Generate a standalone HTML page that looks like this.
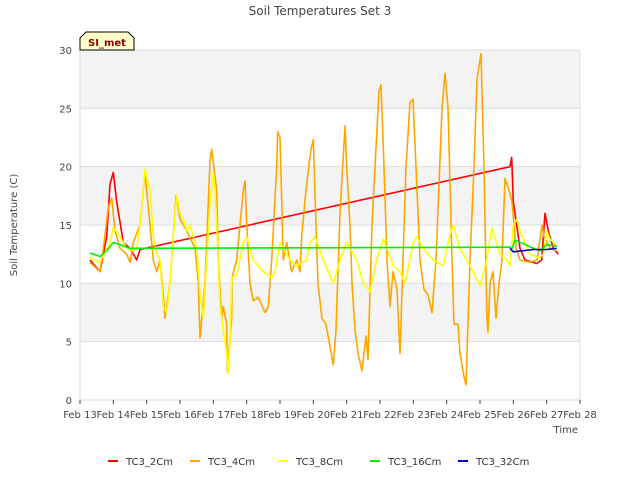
<!DOCTYPE html>
<html><head><meta charset="utf-8"><style>
body{margin:0;background:#fff;font-family:"DejaVu Sans",sans-serif}
</style></head><body>
<svg width="640" height="480" xmlns="http://www.w3.org/2000/svg" font-family="DejaVu Sans, sans-serif">
<g id="bands"></g>
<g id="grid"></g>
<g id="axes"></g>
<g id="series"></g>
<text x="320" y="15" text-anchor="middle" font-size="12" fill="#444">Soil Temperatures Set 3</text>
<text transform="translate(17,225) rotate(-90)" text-anchor="middle" font-size="10" fill="#444">Soil Temperature (C)</text>
<text x="578" y="433" text-anchor="end" font-size="10" fill="#444">Time</text>
<g>
<path d="M80,50 L80,38 L86,32 L128,32 L134,38 L134,50 Z" fill="#ffffcc" stroke="#000"/>
<text x="107" y="46" text-anchor="middle" font-size="10" font-weight="bold" fill="#8b0000">SI_met</text>
</g>
<g id="legend"></g>
</svg>
<script>
const yTicks=[0,5,10,15,20,25,30];
const xTickLabels=["Feb 13","Feb 14","Feb 15","Feb 16","Feb 17","Feb 18","Feb 19","Feb 20","Feb 21","Feb 22","Feb 23","Feb 24","Feb 25","Feb 26","Feb 27","Feb 28"];
const seriesNames=["TC3_2Cm","TC3_4Cm","TC3_8Cm","TC3_16Cm","TC3_32Cm"];
const seriesColors=["#ff0000","#ffa500","#ffff00","#00ee00","#0000cc"];
const tc2=[[0.3,12],[0.6,11],[0.8,14],[0.9,18.5],[1.0,19.5],[1.1,17],[1.3,13.5],[1.5,13],[1.7,12],[1.8,12.9],[12.9,20],[12.95,20.8],[13.0,17],[13.2,13],[13.35,12],[13.7,11.7],[13.85,12],[13.95,16],[14.05,14.5],[14.2,13],[14.35,12.5]];
const tc4=[[0.3,11.8],[0.6,11],[0.7,13],[0.85,16.5],[0.95,17.3],[1.05,14.5],[1.2,13],[1.4,12.5],[1.5,11.8],[1.6,13.5],[1.8,15],[1.95,19.5],[2.1,15],[2.2,12],[2.3,11],[2.4,12],[2.5,9],[2.55,7],[2.7,10],[2.88,17.5],[3.0,15.5],[3.2,14.5],[3.45,13],[3.55,10],[3.6,5.3],[3.75,10],[3.9,20.5],[3.95,21.5],[4.1,18],[4.15,12],[4.25,7],[4.3,8],[4.4,6.5],[4.42,2.5],[4.55,7],[4.56,10.5],[4.7,12],[4.9,18],[4.95,18.8],[5.0,15],[5.1,10],[5.2,8.5],[5.35,8.8],[5.55,7.5],[5.65,8],[5.75,12],[5.9,20],[5.93,23],[6.0,22.5],[6.1,12],[6.2,13.5],[6.35,11],[6.5,12],[6.6,11],[6.65,14],[6.78,18],[6.93,21.5],[7.0,22.3],[7.08,15],[7.14,10],[7.26,7],[7.38,6.5],[7.6,3],[7.68,6],[7.8,16],[7.95,23.5],[8.0,20],[8.1,15],[8.16,10],[8.25,6],[8.34,4],[8.46,2.5],[8.58,5.5],[8.64,3.5],[8.76,15],[8.85,20],[8.97,26.5],[9.03,27],[9.12,20],[9.21,12],[9.3,8],[9.39,11],[9.51,9.5],[9.6,4],[9.69,12],[9.78,20],[9.9,25.5],[9.99,25.8],[10.08,20],[10.2,12],[10.32,9.5],[10.44,9],[10.56,7.5],[10.68,12],[10.86,25],[10.95,28],[11.04,25],[11.16,12],[11.22,6.5],[11.34,6.5],[11.4,4],[11.52,2],[11.58,1.3],[11.7,12],[11.82,20],[11.91,27.5],[12.03,29.7],[12.12,20],[12.18,11],[12.21,7],[12.24,5.8],[12.3,10],[12.39,11],[12.48,7],[12.57,10],[12.66,12],[12.75,19],[12.87,18],[12.96,17],[13.08,13],[13.2,12],[13.5,11.8],[13.71,12],[13.86,15],[13.92,14],[14.1,13],[14.28,12.8]];
const tc8=[[0.3,12.2],[0.6,11.8],[0.9,13.5],[1.0,14.8],[1.2,14],[1.4,13],[1.6,12.8],[1.7,13],[1.8,15],[1.95,19.8],[2.1,18],[2.2,14],[2.3,12.5],[2.4,12],[2.5,8],[2.6,7.5],[2.7,10],[2.85,16],[2.9,17.5],[3.0,16],[3.1,15.5],[3.2,14.5],[3.3,15],[3.5,13],[3.6,9],[3.7,7],[3.8,12],[3.9,17],[4.0,19.5],[4.05,18],[4.1,15],[4.2,8],[4.3,6],[4.4,4],[4.45,2.3],[4.5,5],[4.55,10.5],[4.7,10.7],[4.9,13.5],[5.0,14],[5.2,12],[5.5,11],[5.75,10.5],[5.85,11],[6.0,13.5],[6.1,13],[6.3,12],[6.5,11.5],[6.8,12],[6.9,13.5],[7.05,14],[7.3,12],[7.6,10],[7.8,12],[8.0,13.5],[8.3,12],[8.5,10],[8.7,9.3],[8.9,12],[9.1,13.8],[9.4,11.5],[9.6,11],[9.75,10],[10.0,13.5],[10.1,14],[10.3,13],[10.6,12],[10.9,11.5],[11.1,14.2],[11.2,15],[11.4,13],[11.7,11.5],[12.0,9.8],[12.2,12],[12.35,14.8],[12.6,12.5],[12.8,12],[12.9,11.5],[13.0,15],[13.1,15.5],[13.2,14.5],[13.5,12.5],[13.8,12.2],[13.9,12.5],[14.0,14.5],[14.1,13.8],[14.3,13.2]];
const tc16=[[0.3,12.6],[0.6,12.3],[0.8,12.8],[1.0,13.5],[1.2,13.3],[1.5,13],[1.8,13],[12.9,13.1],[12.95,12.9],[13.05,13.7],[13.3,13.4],[13.6,13],[13.8,12.8],[14.0,13.3],[14.3,13.2]];
const tc32=[[12.9,13],[13.0,12.7],[13.3,12.8],[13.6,12.9],[14.0,12.9],[14.3,13]];
const allSeries=[tc2,tc4,tc8,tc16,tc32];

const X0=80,X1=580,Y0=400,Y1=50;
const xs=d=>X0+(X1-X0)*d/15;
const ys=v=>Y0-(Y0-Y1)*v/30;
const NS="http://www.w3.org/2000/svg";
function mk(t,parent){const e=document.createElementNS(NS,t);document.getElementById(parent).appendChild(e);return e;}
for(let i=0;i<6;i++){
 if(i%2===1){
  const r=mk('rect','bands');
  
  
  r.setAttribute('x',X0);r.setAttribute('width',X1-X0);
  r.setAttribute('y',ys(yTicks[i+1]));r.setAttribute('height',ys(yTicks[i])-ys(yTicks[i+1]));
  r.setAttribute('fill','#f3f3f3');
 }
}
yTicks.forEach(v=>{
 const l=mk('line','grid');
 
 
 l.setAttribute('x1',X0);l.setAttribute('x2',X1);l.setAttribute('y1',ys(v));l.setAttribute('y2',ys(v));
 l.setAttribute('stroke','#dddddd');
 const t=mk('text','axes');
 
 
 t.setAttribute('x',X0-8);t.setAttribute('y',ys(v)+4);t.setAttribute('text-anchor','end');
 t.setAttribute('font-size','10');t.setAttribute('fill','#444');t.textContent=v;
});
const lv=mk('line','grid');


lv.setAttribute('x1',X0);lv.setAttribute('x2',X0);lv.setAttribute('y1',Y1);lv.setAttribute('y2',Y0);lv.setAttribute('stroke','#dddddd');
const rv=mk('line','grid');


rv.setAttribute('x1',X1);rv.setAttribute('x2',X1);rv.setAttribute('y1',Y1);rv.setAttribute('y2',Y0);rv.setAttribute('stroke','#dddddd');
xTickLabels.forEach((s,i)=>{
 const tk=mk('line','axes');
 
 
 tk.setAttribute('x1',xs(i));tk.setAttribute('x2',xs(i));tk.setAttribute('y1',Y0);tk.setAttribute('y2',Y0+4);tk.setAttribute('stroke','#444');
 const t=mk('text','axes');
 
 
 t.setAttribute('x',xs(i));t.setAttribute('y',Y0+18);t.setAttribute('text-anchor','middle');
 t.setAttribute('font-size','10');t.setAttribute('fill','#444');t.textContent=s;
});
allSeries.forEach((ser,k)=>{
 const p=mk('polyline','series');
 
 
 p.setAttribute('points',ser.map(d=>xs(d[0]).toFixed(1)+','+ys(d[1]).toFixed(1)).join(' '));
 p.setAttribute('fill','none');p.setAttribute('stroke',seriesColors[k]);p.setAttribute('stroke-width','1.6');
 p.setAttribute('stroke-linejoin','round');
});
const lx=[108,190,278,370,458];
seriesNames.forEach((n,k)=>{
 const g=mk('g','legend');
 
 
 const l=document.createElementNS(NS,'line');
 l.setAttribute('x1',lx[k]);l.setAttribute('x2',lx[k]+10);l.setAttribute('y1',461);l.setAttribute('y2',461);
 l.setAttribute('stroke',seriesColors[k]);l.setAttribute('stroke-width','2');
 g.appendChild(l);
 const t=document.createElementNS(NS,'text');
 t.setAttribute('x',lx[k]+18);t.setAttribute('y',465);t.setAttribute('font-size','10');t.setAttribute('fill','#333');
 t.textContent=n;g.appendChild(t);
});
</script>
</body></html>
